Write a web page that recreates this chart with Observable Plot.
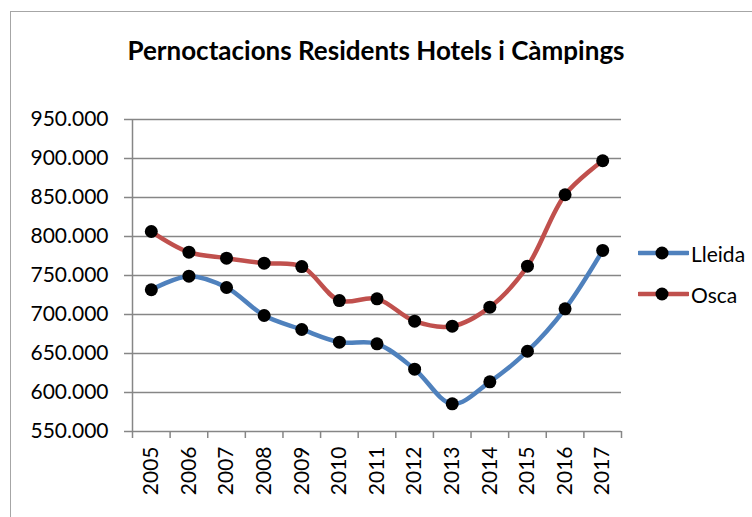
<!DOCTYPE html>
<html><head><meta charset="utf-8">
<script src="https://cdn.jsdelivr.net/npm/d3@7"></script>
<script src="https://cdn.jsdelivr.net/npm/@observablehq/plot@0.6"></script>
<style>
body{margin:0;background:#fff;}
#wrap{position:relative;width:752px;height:517px;overflow:hidden;font-family:Lato, "Open Sans", sans-serif;color:#000;}
#frame{position:absolute;left:10px;top:11px;width:800px;height:600px;border:1.5px solid #a6a6a6;}
#chart{position:absolute;left:0;top:0;}
#title{position:absolute;left:0;top:35px;width:752px;text-align:center;font-weight:bold;font-size:26px;line-height:30px;}
.lg{position:absolute;left:638px;height:30px;display:flex;align-items:center;font-size:21px;}
.lg svg{margin-right:2px;}
</style></head>
<body><div id="wrap"><div id="frame"></div><div id="chart"></div><div id="title"></div></div>
<script>
const title = "Pernoctacions Residents Hotels i Càmpings";
const years = [2005,2006,2007,2008,2009,2010,2011,2012,2013,2014,2015,2016,2017];
const lleida = [731700,749100,734600,698700,680800,664500,662400,629900,585500,613700,652900,707300,782100];
const osca = [806400,779900,772200,765800,761500,717900,720100,691400,685000,709400,761900,853500,897100];
const yTicks = [550000,600000,650000,700000,750000,800000,850000,900000,950000];
const seriesNames = ["Lleida","Osca"];
const seriesColors = ["#4F81BD","#C0504D"];

const rows = [];
years.forEach((y,i)=>{ rows.push({year:y, value:lleida[i], series:"Lleida"}); });
years.forEach((y,i)=>{ rows.push({year:y, value:osca[i], series:"Osca"}); });

const fmt = d => d3.format(",")(d).replace(/,/g,".");
const boundaries = years.map(y=>y-0.5).concat([years[years.length-1]+0.5]);
const gray = "#868686";

const plot = Plot.plot({
  width:752, height:517,
  marginLeft:132, marginRight:131, marginTop:119, marginBottom:86,
  style:{fontFamily:"Lato, 'Open Sans', sans-serif", fontSize:"21px", color:"#000", background:"transparent", overflow:"visible"},
  x:{type:"linear", domain:[years[0]-0.5, years[years.length-1]+0.5]},
  y:{domain:[yTicks[0], yTicks[yTicks.length-1]]},
  color:{domain:seriesNames, range:seriesColors},
  marks:[
    Plot.gridY(yTicks, {stroke:gray, strokeOpacity:1, strokeWidth:1.5}),
    Plot.axisY(yTicks, {tickFormat:fmt, tickSize:8, tickPadding:16, stroke:gray, strokeWidth:1.5, strokeOpacity:1, label:null, fontSize:21}),
    Plot.ruleX([boundaries[0]], {stroke:gray, strokeWidth:1.5}),
    Plot.axisX(boundaries, {tickSize:7, tickFormat:()=>"", label:null, stroke:gray, strokeWidth:1.5, strokeOpacity:1}),
    Plot.axisX(years, {tickSize:0, tickPadding:15, tickRotate:-90, tickFormat:d=>String(d), label:null, fontSize:21}),
    Plot.line(rows, {x:"year", y:"value", stroke:"series", z:"series", curve:"catmull-rom", strokeWidth:4.5}),
    Plot.dot(rows, {x:"year", y:"value", r:6.5, fill:"black", stroke:"none"})
  ]
});
document.getElementById("chart").appendChild(plot);
document.getElementById("title").textContent = title;

const wrap = document.getElementById("wrap");
const legendCenters = [253, 294];
seriesNames.forEach((name,i)=>{
  const d = document.createElement("div");
  d.className = "lg";
  d.style.top = (legendCenters[i]-15)+"px";
  d.innerHTML = `<svg width="51" height="20"><line x1="1" y1="10" x2="50" y2="10" stroke="${seriesColors[i]}" stroke-width="4.5" stroke-linecap="round"/><circle cx="24" cy="10" r="6.5" fill="black"/></svg><span>${name}</span>`;
  wrap.appendChild(d);
});
</script>
</body></html>
